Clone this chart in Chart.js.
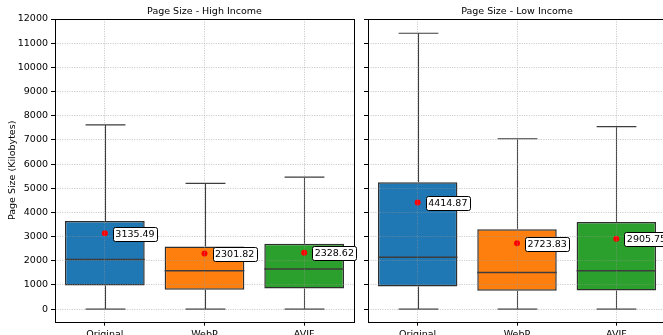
<!DOCTYPE html>
<html>
<head>
<meta charset="utf-8">
<script src="https://cdn.jsdelivr.net/npm/chart.js@4.4.1/dist/chart.umd.min.js"></script>
<style>
  html, body { margin: 0; padding: 0; background: #fff; overflow: hidden; width: 663px; height: 335px; }
  .panel { position: absolute; top: 0; height: 345px; }
  #leftBox { left: 0; width: 360px; }
  #rightBox { left: 358px; width: 318px; }
</style>
</head>
<body>
<div id="leftBox" class="panel"><canvas id="left"></canvas></div>
<div id="rightBox" class="panel"><canvas id="right"></canvas></div>
<script>
// categories
var categories = ['Original', 'WebP', 'AVIF'];
var boxColors = ['#1f77b4', '#ff7f0e', '#2ca02c'];

// high income
var highWhiskerLow = [0, 0, 0];
var highQ1 = [975, 800, 855];
var highMedian = [2050, 1585, 1655];
var highQ3 = [3650, 2590, 2700];
var highWhiskerHigh = [7620, 5200, 5460];
var highMean = [3135.49, 2301.82, 2328.62];

// low income
var lowWhiskerLow = [0, 0, 0];
var lowQ1 = [935, 755, 770];
var lowMedian = [2150, 1515, 1585];
var lowQ3 = [5250, 3305, 3600];
var lowWhiskerHigh = [11410, 7045, 7550];
var lowMean = [4414.87, 2723.83, 2905.75];

// y ticks
var yTicks = [0, 1000, 2000, 3000, 4000, 5000, 6000, 7000, 8000, 9000, 10000, 11000, 12000];
var yMin = -520;
var yMax = 12000;

var FONT = 'DejaVu Sans';
var LINE = '#3d3d3d';

// whiskers, caps and median drawn on top of the box bars
function boxParts(lo, q1, med, q3, hi) {
    return {
        id: 'boxParts',
        afterDatasetDraw: function (chart, args) {
            if (args.meta.type !== 'bar') return;
            var ctx = chart.ctx;
            var y = chart.scales.y;
            ctx.save();
            ctx.strokeStyle = LINE;
            args.meta.data.forEach(function (bar, i) {
                var x = Math.round(bar.x) + 0.5;
                var half = bar.width / 2;
                var cap = bar.width / 4;
                ctx.lineWidth = 1.1;
                ctx.beginPath();
                ctx.moveTo(x, y.getPixelForValue(q3[i]));
                ctx.lineTo(x, y.getPixelForValue(hi[i]));
                ctx.moveTo(x, y.getPixelForValue(q1[i]));
                ctx.lineTo(x, y.getPixelForValue(lo[i]));
                ctx.moveTo(x - cap, y.getPixelForValue(hi[i]));
                ctx.lineTo(x + cap, y.getPixelForValue(hi[i]));
                ctx.moveTo(x - cap, y.getPixelForValue(lo[i]));
                ctx.lineTo(x + cap, y.getPixelForValue(lo[i]));
                ctx.stroke();
                ctx.lineWidth = 1.5;
                ctx.beginPath();
                ctx.moveTo(bar.x - half, y.getPixelForValue(med[i]));
                ctx.lineTo(bar.x + half, y.getPixelForValue(med[i]));
                ctx.stroke();
            });
            ctx.restore();
        }
    };
}

// axes frame and boxed mean labels
function frameAndLabels(means) {
    return {
        id: 'frameAndLabels',
        afterDraw: function (chart) {
            var ctx = chart.ctx;
            var a = chart.chartArea;
            ctx.save();
            ctx.strokeStyle = '#000';
            ctx.lineWidth = 1;
            ctx.strokeRect(Math.round(a.left) + 0.5, Math.round(a.top) + 0.5,
                Math.round(a.right - a.left), Math.round(a.bottom - a.top));

            var meta = chart.getDatasetMeta(1);
            ctx.font = '9.5px "' + FONT + '"';
            ctx.textBaseline = 'middle';
            meta.data.forEach(function (pt, i) {
                var txt = means[i].toFixed(2);
                var w = ctx.measureText(txt).width;
                var tx = pt.x + 10.5;
                var ty = pt.y + 0.6;
                ctx.beginPath();
                ctx.roundRect(Math.round(tx - 2.5) + 0.5, Math.round(ty - 7) + 0.5, Math.round(w + 5), 14, 2);
                ctx.fillStyle = '#fff';
                ctx.fill();
                ctx.strokeStyle = '#000';
                ctx.stroke();
                ctx.fillStyle = '#000';
                ctx.fillText(txt, tx, ty + 0.5);
            });
            ctx.restore();
        }
    };
}

function makeChart(canvasId, title, lo, q1, med, q3, hi, means, isLeft) {
    var boxes = q1.map(function (v, i) { return [v, q3[i]]; });
    var tickFont = { family: FONT, size: 9.5 };
    return new Chart(document.getElementById(canvasId), {
        type: 'bar',
        data: {
            labels: categories,
            datasets: [{
                type: 'bar',
                data: boxes,
                backgroundColor: boxColors,
                borderColor: '#2e2e2e',
                borderWidth: 1.5,
                borderSkipped: false,
                barPercentage: 0.8,
                categoryPercentage: 1.0,
                order: 2
            }, {
                type: 'line',
                data: means,
                showLine: false,
                pointRadius: 3,
                pointBackgroundColor: '#ff0000',
                pointBorderWidth: 0,
                order: 1
            }]
        },
        options: {
            responsive: true,
            maintainAspectRatio: false,
            animation: false,
            layout: { padding: { left: 0, right: isLeft ? 6 : 10, top: 0, bottom: 0 } },
            plugins: {
                legend: { display: false },
                tooltip: { enabled: false },
                title: {
                    display: true,
                    text: title,
                    fullSize: false,
                    color: '#000',
                    font: { family: FONT, size: 9.5, weight: 'normal' },
                    padding: { top: 6, bottom: 1.6 }
                }
            },
            scales: {
                x: {
                    offset: true,
                    grid: {
                        offset: false,
                        color: 'rgba(150,150,150,0.6)',
                        lineWidth: 0.8,
                        tickColor: '#000',
                        tickLength: 4,
                        tickWidth: 1,
                        z: 1
                    },
                    border: { display: false, dash: [1.2, 1.2] },
                    ticks: { color: '#000', font: tickFont, padding: 3, maxRotation: 0 },
                    afterFit: function (s) { s.height = 23.3; }
                },
                y: {
                    min: yMin,
                    max: yMax,
                    grid: {
                        color: 'rgba(150,150,150,0.6)',
                        lineWidth: 0.8,
                        tickColor: '#000',
                        tickLength: 4,
                        tickWidth: 1,
                        z: 1
                    },
                    border: { display: false, dash: [1.2, 1.2] },
                    ticks: {
                        color: '#000',
                        font: tickFont,
                        padding: 3,
                        callback: function (v) { return isLeft ? String(v) : ''; }
                    },
                    afterBuildTicks: function (s) {
                        s.ticks = yTicks.map(function (v) { return { value: v }; });
                    },
                    title: {
                        display: isLeft,
                        text: 'Page Size (Kilobytes)',
                        color: '#000',
                        font: { family: FONT, size: 9.5 },
                        padding: { top: 7, bottom: 0 }
                    },
                    afterFit: function (s) { s.width = isLeft ? 55 : 10; }
                }
            }
        },
        plugins: [boxParts(lo, q1, med, q3, hi), frameAndLabels(means)]
    });
}

makeChart('left', 'Page Size - High Income', highWhiskerLow, highQ1, highMedian, highQ3, highWhiskerHigh, highMean, true);
makeChart('right', 'Page Size - Low Income', lowWhiskerLow, lowQ1, lowMedian, lowQ3, lowWhiskerHigh, lowMean, false);
</script>
</body>
</html>
